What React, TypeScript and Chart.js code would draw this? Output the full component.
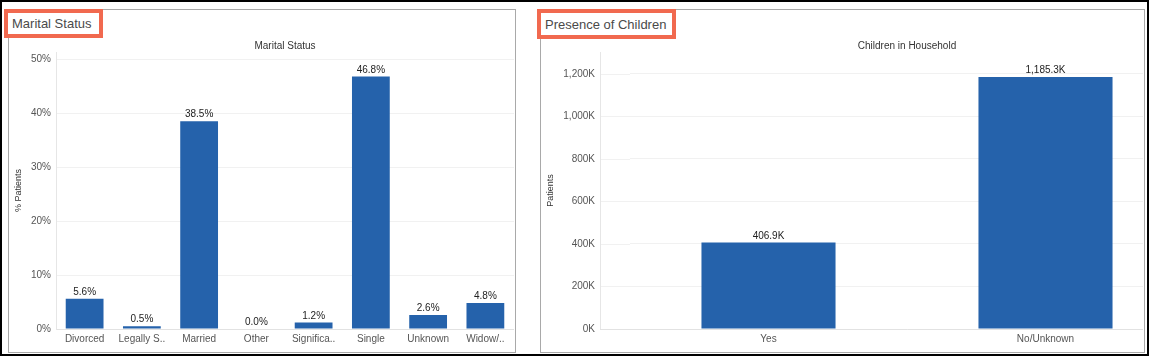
import React, { useEffect, useRef } from 'react';
import { Chart, registerables } from 'chart.js';

Chart.register(...registerables);

const FONT = "Arial, 'Liberation Sans', sans-serif";
const BAR_COLOR = '#2562AB';

const maritalCategories = ['Divorced', 'Legally S..', 'Married', 'Other', 'Significa..', 'Single', 'Unknown', 'Widow/..'];
const maritalValues = [5.6, 0.5, 38.5, 0.0, 1.2, 46.8, 2.6, 4.8];
const maritalTicks = [0, 10, 20, 30, 40, 50];

const childrenCategories = ['Yes', 'No/Unknown'];
const childrenValues = [406.9, 1185.3]; // thousands of patients
const childrenTicks = [0, 200, 400, 600, 800, 1000, 1200];

const fmtK = (v: number, digits: number) =>
  v.toLocaleString('en-US', { minimumFractionDigits: digits, maximumFractionDigits: digits }) + 'K';

function makeLabelPlugin(format: (v: number) => string) {
  return {
    id: 'valueLabels',
    afterDatasetsDraw(chart: any) {
      const { ctx } = chart;
      const meta = chart.getDatasetMeta(0);
      const data = chart.data.datasets[0].data as number[];
      ctx.save();
      ctx.font = `10px ${FONT}`;
      ctx.fillStyle = '#222';
      ctx.textAlign = 'center';
      ctx.textBaseline = 'alphabetic';
      meta.data.forEach((bar: any, i: number) => {
        ctx.fillText(format(data[i]), bar.x, bar.y - 4);
      });
      ctx.restore();
    },
  };
}

// Extends the horizontal grid lines and the axis line to the left of the plot
// (the reference pane starts a little left of the category bands).
function makeAxisExtendPlugin(extend: number) {
  return {
    id: 'axisExtend',
    beforeDatasetsDraw(chart: any) {
      if (!extend) return;
      const { ctx, chartArea } = chart;
      const y = chart.scales.y;
      const x0 = chartArea.left - extend;
      ctx.save();
      ctx.lineWidth = 1;
      ctx.strokeStyle = '#f1f1f1';
      y.ticks.forEach((t: any) => {
        const py = Math.round(y.getPixelForValue(t.value)) + 0.5;
        ctx.beginPath();
        ctx.moveTo(x0, py);
        ctx.lineTo(chartArea.left, py);
        ctx.stroke();
      });
      ctx.strokeStyle = '#e2e2e2';
      const by = Math.round(chartArea.bottom) + 0.5;
      ctx.beginPath();
      ctx.moveTo(x0, by);
      ctx.lineTo(chartArea.left, by);
      ctx.stroke();
      ctx.strokeStyle = '#e6e6e6';
      ctx.beginPath();
      ctx.moveTo(x0 + 0.5, chartArea.top);
      ctx.lineTo(x0 + 0.5, chartArea.bottom);
      ctx.stroke();
      ctx.restore();
    },
  };
}

function buildConfig(opts: {
  labels: string[];
  values: number[];
  ticks: number[];
  max: number;
  title: string;
  yTitle: string;
  yWidth: number;
  tickPad: number;
  extend: number;
  barPct: number;
  tickFmt: (v: number) => string;
  valFmt: (v: number) => string;
}): any {
  return {
    type: 'bar',
    data: {
      labels: opts.labels,
      datasets: [
        {
          data: opts.values,
          backgroundColor: BAR_COLOR,
          barPercentage: opts.barPct,
          categoryPercentage: 1.0,
        },
      ],
    },
    options: {
      responsive: false,
      animation: false,
      layout: { padding: { left: 0, right: 0, top: 0, bottom: 0 } },
      plugins: {
        legend: { display: false },
        tooltip: { enabled: false },
        title: {
          display: true,
          text: opts.title,
          color: '#333',
          font: { family: FONT, size: 10, weight: 'normal' },
          padding: { top: 4, bottom: 0 },
          fullSize: false,
        },
      },
      scales: {
        x: {
          grid: { display: false, drawTicks: false },
          border: { display: true, color: '#e2e2e2' },
          ticks: {
            color: '#555',
            font: { family: FONT, size: 10 },
            padding: 4,
            maxRotation: 0,
            autoSkip: false,
          },
          afterFit: (s: any) => {
            s.height = 23;
          },
        },
        y: {
          min: 0,
          max: opts.max,
          afterBuildTicks: (s: any) => {
            s.ticks = opts.ticks.map((v) => ({ value: v }));
          },
          grid: { color: '#f1f1f1', drawTicks: false },
          border: { display: opts.extend === 0, color: '#e6e6e6' },
          ticks: {
            color: '#555',
            font: { family: FONT, size: 10 },
            padding: opts.tickPad,
            callback: (v: any) => opts.tickFmt(Number(v)),
          },
          title: {
            display: true,
            text: opts.yTitle,
            color: '#333',
            font: { family: FONT, size: 9 },
            padding: { top: 4, bottom: 4 },
          },
          afterFit: (s: any) => {
            s.width = opts.yWidth;
            s.paddingTop = 0;
            s.paddingBottom = 0;
          },
        },
      },
    },
    plugins: [makeAxisExtendPlugin(opts.extend), makeLabelPlugin(opts.valFmt)],
  };
}

function BarCanvas({ config, left, top, width, height, clipWidth }: any) {
  const ref = useRef<HTMLCanvasElement | null>(null);
  useEffect(() => {
    if (!ref.current) return;
    const chart = new Chart(ref.current, config);
    return () => chart.destroy();
  }, []);
  return (
    <div
      style={{
        position: 'absolute',
        left,
        top,
        width: clipWidth ?? width,
        height,
        overflow: 'hidden',
      }}
    >
      <canvas
        ref={ref}
        width={width}
        height={height}
        style={{ position: 'absolute', left: 0, top: 0, width, height }}
      />
    </div>
  );
}

function Tag({ text, left, top, width, height }: any) {
  return (
    <div
      style={{
        position: 'absolute',
        left,
        top,
        width,
        height,
        boxSizing: 'border-box',
        border: '4px solid #F1694F',
        background: '#fff',
        fontFamily: FONT,
        fontSize: 13,
        color: '#4a4a4a',
        display: 'flex',
        alignItems: 'center',
        paddingLeft: 4,
        whiteSpace: 'nowrap',
      }}
    >
      {text}
    </div>
  );
}

export default function App() {
  const leftConfig = buildConfig({
    labels: maritalCategories,
    values: maritalValues,
    ticks: maritalTicks,
    max: 51.35,
    title: 'Marital Status',
    yTitle: '% Patients',
    yWidth: 47,
    tickPad: 5,
    extend: 0,
    barPct: 0.66,
    tickFmt: (v) => v + '%',
    valFmt: (v) => v.toFixed(1) + '%',
  });
  const rightConfig = buildConfig({
    labels: childrenCategories,
    values: childrenValues,
    ticks: childrenTicks,
    max: 1303.5,
    title: 'Children in Household',
    yTitle: 'Patients',
    yWidth: 89,
    tickPad: 35,
    extend: 30,
    barPct: 0.484,
    tickFmt: (v) => fmtK(v, 0),
    valFmt: (v) => fmtK(v, 1),
  });

  return (
    <div
      style={{
        position: 'absolute',
        left: 0,
        top: 0,
        width: 1150,
        height: 357,
        background: '#fff',
        overflow: 'hidden',
      }}
    >
      <div
        style={{
          position: 'absolute',
          left: 0,
          top: 0,
          width: 1149,
          height: 356,
          boxSizing: 'border-box',
          border: '2px solid #000',
        }}
      />
      <div
        style={{
          position: 'absolute',
          left: 8,
          top: 9,
          width: 508,
          height: 344,
          boxSizing: 'border-box',
          border: '1px solid #a9a9a9',
        }}
      />
      <div
        style={{
          position: 'absolute',
          left: 540,
          top: 9,
          width: 605,
          height: 344,
          boxSizing: 'border-box',
          border: '1px solid #a9a9a9',
        }}
      />
      <BarCanvas config={leftConfig} left={9} top={36} width={505} height={316} />
      <BarCanvas config={rightConfig} left={541} top={36} width={643} height={316} clipWidth={602} />
      <Tag text="Marital Status" left={4} top={9} width={99} height={29} />
      <Tag text="Presence of Children" left={537} top={9} width={139} height={30} />
    </div>
  );
}
